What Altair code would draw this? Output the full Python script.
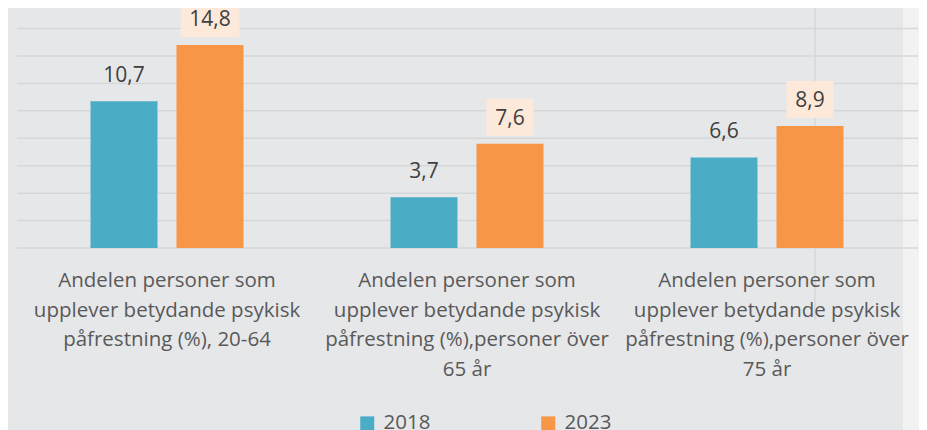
import altair as alt
import pandas as pd

groups = ["g1", "g2", "g3"]
group_labels = [
    "Andelen personer som\nupplever betydande psykisk\npåfrestning (%), 20-64",
    "Andelen personer som\nupplever betydande psykisk\npåfrestning (%),personer över\n65 år",
    "Andelen personer som\nupplever betydande psykisk\npåfrestning (%),personer över\n75 år",
]
years = ["2018", "2023"]
values_2018 = [10.7, 3.7, 6.6]
values_2023 = [14.8, 7.6, 8.9]
grid_values = [0, 2, 4, 6, 8, 10, 12, 14, 16]

BLUE = "#4bacc6"
ORANGE = "#f79646"
FONT = "Open Sans"

rows = []
for g, v in zip(groups, values_2018):
    rows.append({"group": g, "year": "2018", "value": v})
for g, v in zip(groups, values_2023):
    rows.append({"group": g, "year": "2023", "value": v})
df = pd.DataFrame(rows)
df["label"] = df["value"].map(lambda v: f"{v:.1f}".replace(".", ","))

cat_df = pd.DataFrame({"group": groups, "text": group_labels})
grid_df = pd.DataFrame({"v": grid_values})
one = pd.DataFrame({"k": [0]})

xs = alt.Scale(domain=groups, paddingInner=0, paddingOuter=0.01833, align=0.818)
ys = alt.Scale(domain=[0, 17.5], range=[240, 0])
xo = alt.XOffset("year:N", scale=alt.Scale(domain=years, paddingInner=0.221, paddingOuter=0.855))

X = alt.X("group:N", scale=xs, axis=None)

strip = alt.Chart(one).mark_rect(color="#f2f2f2").encode(
    x=alt.value(895), x2=alt.value(911), y=alt.value(0), y2=alt.value(422)
)

vline = alt.Chart(one).mark_rule(color="#d6d7d9", strokeWidth=1.5).encode(
    x=alt.value(807), y=alt.value(0), y2=alt.value(312)
)

grid = alt.Chart(grid_df).mark_rule(color="#d6d7d9", strokeWidth=1.5).encode(
    y=alt.Y("v:Q", scale=ys, axis=None),
    x=alt.value(9), x2=alt.value(910),
)

bars = alt.Chart(df).mark_bar().encode(
    x=X,
    xOffset=xo,
    y=alt.Y("value:Q", scale=ys, axis=None),
    color=alt.Color(
        "year:N",
        scale=alt.Scale(domain=years, range=[BLUE, ORANGE]),
        legend=alt.Legend(
            orient="none", legendX=349, legendY=405, direction="horizontal",
            title=None, symbolType="square", symbolSize=196, symbolStrokeWidth=0,
            labelFontSize=20.5, labelFont=FONT, labelColor="#595959",
            columnPadding=107, labelOffset=6, padding=0,
        ),
    ),
)

boxes = alt.Chart(df).transform_filter(alt.datum.year == "2023").transform_calculate(
    boxw="length(datum.label) * 12 + 11"
).mark_bar(color="#fde9d9", yOffset=-8, y2Offset=-45).encode(
    x=X,
    xOffset=xo,
    y=alt.Y("value:Q", scale=ys, axis=None),
    y2=alt.Y2("value:Q"),
    size=alt.Size("boxw:Q", scale=None, legend=None),
)

labels = alt.Chart(df).mark_text(
    font=FONT, fontSize=21, color="#404040", baseline="middle", dy=-25
).encode(
    x=X,
    xOffset=xo,
    y=alt.Y("value:Q", scale=ys, axis=None),
    text="label:N",
)

cats = alt.Chart(cat_df).mark_text(
    font=FONT, fontSize=20.5, color="#595959", baseline="top", lineBreak="\n",
    lineHeight=29.5, align="center",
).encode(
    x=X,
    y=alt.value(263),
    text="text:N",
)

chart = alt.layer(strip, vline, grid, bars, boxes, labels, cats).properties(
    width=911, height=422,
    autosize=alt.AutoSizeParams(type="none"),
    padding=0,
    background="#e6e7e9",
).configure_view(stroke=None)

chart.save("out.html", embed_options={"renderer": "svg", "actions": False})
